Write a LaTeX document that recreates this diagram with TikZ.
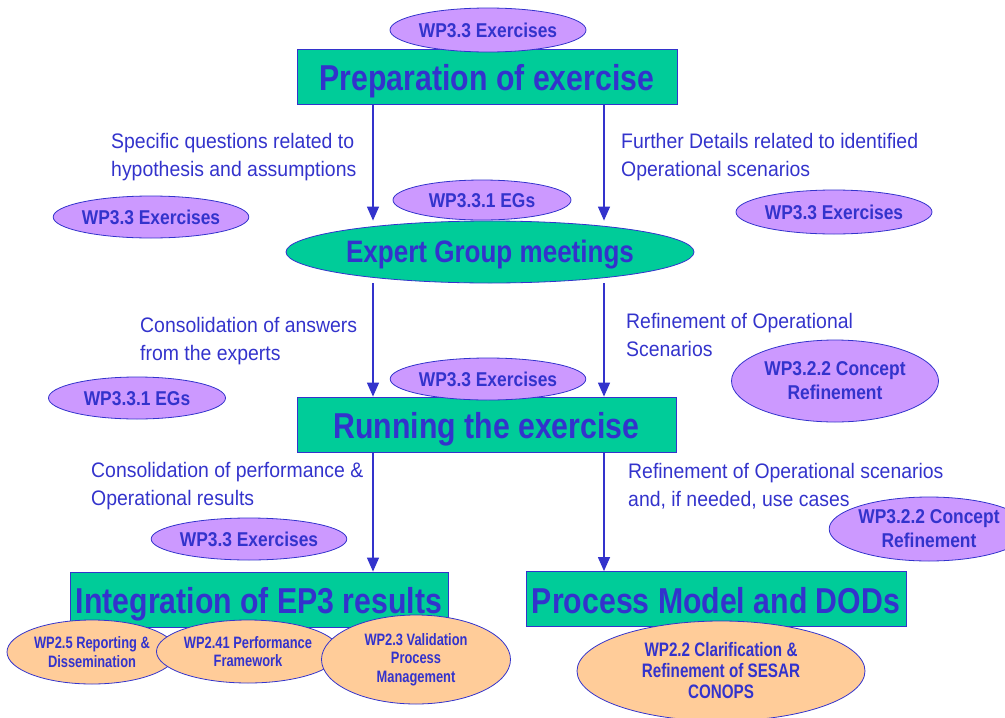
\documentclass[tikz,border=0pt]{standalone}
\usepackage{fontspec}
\setmainfont{Liberation Sans}
\newfontfamily\fntT[FakeStretch=0.84]{Liberation Sans}
\newfontfamily\fntE[FakeStretch=0.87]{Liberation Sans}
\newfontfamily\fntO[FakeStretch=0.78]{Liberation Sans}
\newfontfamily\fntR[FakeStretch=0.925]{Liberation Sans}
\usetikzlibrary{arrows.meta,shapes.geometric}
\definecolor{tblue}{HTML}{3333CC}
\definecolor{boxgreen}{HTML}{00CC99}
\definecolor{lilac}{HTML}{CC99FF}
\definecolor{peach}{HTML}{FFCC99}
\tikzset{
  titlebox/.style={draw=tblue, line width=0.8pt, fill=boxgreen, text=tblue, inner sep=0pt,
    text height=28pt, text depth=0pt,
    font=\fntT\bfseries\fontsize{36}{40}\selectfont},
  wpell/.style={ellipse, draw=tblue, line width=0.8pt, fill=lilac, text=tblue, inner sep=0pt,
    align=center, font=\fntE\bfseries\fontsize{20}{24}\selectfont},
  oneline/.style={text height=15.4pt, text depth=0pt},
  orell/.style={ellipse, draw=tblue, line width=0.8pt, fill=peach, text=tblue, inner sep=0pt,
    align=center, font=\fntO\bfseries\fontsize{16.5}{18.5}\selectfont},
  lbl/.style={anchor=west, text=tblue, align=left, inner sep=0pt,
    font=\fntR\fontsize{21}{28}\selectfont},
  arr/.style={draw=tblue, line width=1.3pt, -{Triangle[length=14pt,width=12pt]}},
}
\begin{document}
\begin{tikzpicture}[x=1pt,y=-1pt]
\useasboundingbox (0,0) rectangle (1005,718);
% x positions of connectors
\coordinate (xl) at (373,0);
\coordinate (xr) at (604,0);

% --- level 1
\node[titlebox, minimum width=380pt, minimum height=55pt] (prep) at (487,76.5) {Preparation of exercise};
\node[wpell, oneline, minimum width=196pt, minimum height=44pt] (w1) at (488,30) {WP3.3 Exercises};

\node[lbl] (t1) at (111,157) {Specific questions related to\\hypothesis and assumptions};
\node[lbl] (t2) at (621,157) {Further Details related to identified\\Operational scenarios};
\node[wpell, oneline, minimum width=194pt, minimum height=42pt] (w2) at (151,217) {WP3.3 Exercises};
\node[wpell, oneline, minimum width=196pt, minimum height=44pt] (w3) at (834,212) {WP3.3 Exercises};

% --- level 2
\node[ellipse, draw=tblue, line width=0.8pt, fill=boxgreen, text=tblue, inner sep=0pt,
  minimum width=408pt, minimum height=62pt, text height=21pt, text depth=0pt,
  font=\fntT\bfseries\fontsize{31}{36}\selectfont]
  (eg) at (490,252) {Expert Group meetings};
\node[wpell, oneline, minimum width=178pt, minimum height=40pt] (w4) at (482,200) {WP3.3.1 EGs};

\draw[arr] (prep.south -| xl) -- (eg.north -| xl);
\draw[arr] (prep.south -| xr) -- (eg.north -| xr);

\node[lbl] (t3) at (140,341) {Consolidation of answers\\from the experts};
\node[lbl] (t4) at (626,335) {Refinement of Operational\\Scenarios};
\node[wpell, oneline, minimum width=177pt, minimum height=42pt] (w5) at (137,398) {WP3.3.1 EGs};
\node[wpell, minimum width=207pt, minimum height=82pt] (w6) at (835,381) {WP3.2.2 Concept\\Refinement};

% --- level 3
\node[titlebox, minimum width=379pt, minimum height=55pt] (run) at (486.5,424.5) {Running the exercise};
\node[wpell, oneline, minimum width=195pt, minimum height=42pt] (w7) at (488,379) {WP3.3 Exercises};

\draw[arr] (eg.south -| xl) -- (run.north -| xl);
\draw[arr] (eg.south -| xr) -- (run.north -| xr);

\node[lbl] (t5) at (91,486) {Consolidation of performance \&\\Operational results};
\node[lbl] (t6) at (628,486.5) {Refinement of Operational scenarios\\and, if needed, use cases};
\node[wpell, oneline, minimum width=195pt, minimum height=42pt] (w8) at (249,539) {WP3.3 Exercises};
\node[wpell, minimum width=190pt, minimum height=64pt] (w9) at (929,529) {WP3.2.2 Concept\\Refinement};

% --- level 4
\node[titlebox, minimum width=378pt, minimum height=55pt] (integ) at (259,599.5) {Integration of EP3 results};
\node[titlebox, minimum width=380pt, minimum height=55pt] (pm) at (716,599) {Process Model and DODs};

\draw[arr] (run.south -| xl) -- (integ.north -| xl);
\draw[arr] (run.south -| xr) -- (pm.north -| xr);

\node[orell, minimum width=170pt, minimum height=64pt] (o1) at (92,652) {WP2.5 Reporting \&\\Dissemination};
\node[orell, minimum width=183pt, minimum height=63pt] (o2) at (248,651.5) {WP2.41 Performance\\Framework};
\node[orell, minimum width=189pt, minimum height=89pt] (o3) at (416,659.5) {WP2.3 Validation\\Process\\Management};
\node[orell, minimum width=288pt, minimum height=100pt, font=\fntO\bfseries\fontsize{19.5}{21}\selectfont] (o4) at (721,671) {WP2.2 Clarification \&\\Refinement of SESAR\\CONOPS};
\end{tikzpicture}
\end{document}
